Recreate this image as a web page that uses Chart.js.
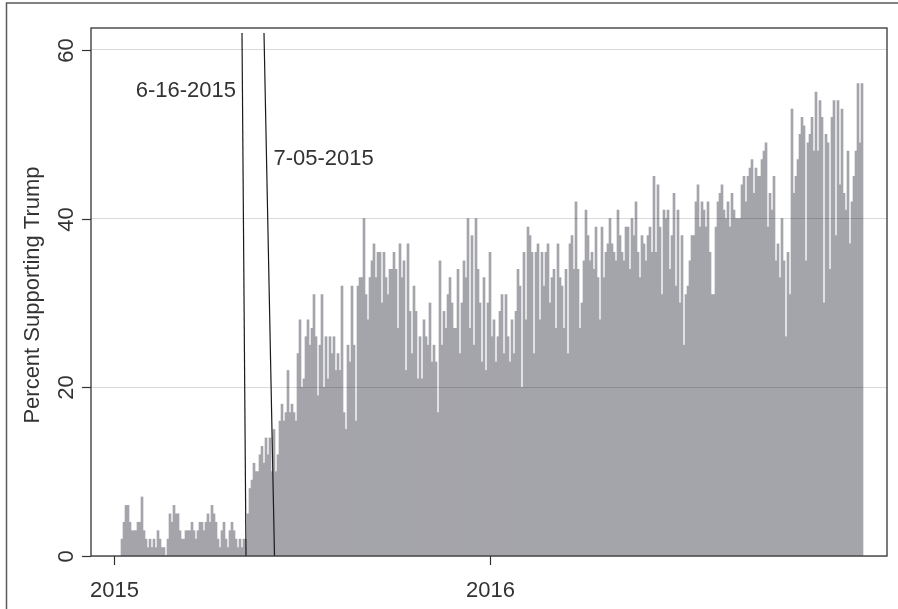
<!DOCTYPE html>
<html>
<head>
<meta charset="utf-8">
<script src="https://cdn.jsdelivr.net/npm/chart.js@4.4.1/dist/chart.umd.min.js"></script>
<style>
  html, body { margin:0; padding:0; background:#fff; }
  #wrap { width:898px; height:609px; }
</style>
</head>
<body>
<div id="wrap"><canvas id="trumpChart" width="898" height="609"></canvas></div>
<script>
// ── Data ──────────────────────────────────────────────────
// share supporting Trump, one bar per poll period
const earlyPolls = [2,4,6,6,4,3,3,3,4,4,7,3,2,1,2,1,2,1,3,2,1,1,0,2,5,4,6,5,5,3,2,2,3,3,3,4,3,2,3,4,4,3,4,5,4,6,5,4,2,1,3,4,2,1,3,4,3,2,1,2,1,2];
const summer2015  = [2,5,8,9,11,10,10,12,13,11,14,12,14,10,15,10,12,16,18,16,17,22,17,18,17,16,24,28,20,21,26,28,25,27,31,26,19,25,31,20,26,21,26,24,26,22,24,22,32,17,15,25,23,32,25,16,32,33];
const fall2015    = [33,40,31,28,33,35,37,33,36,36,30,36,33,31,34,34,36,34,27,37,33,35,22,37,29,24,32,29,21,26,21,28,26,25,30,23,25,23,17,35,25,29,27,31,33,30,27,27,34,24,30,35];
const winter2016  = [33,40,27,38,25,40,34,30,23,33,22,30,36,26,28,23,26,29,31,24,31,26,23,28,24,29,34,32,20,36,28,39,38,36,24,36,37,28,36,32,36,37,30,33,34,27,37,33,32,27];
const spring2016  = [34,24,37,38,34,42,34,27,30,35,41,38,35,36,34,39,33,28,39,33,36,37,40,37,36,35,41,38,36,35,39,39,34,40,38,42,36,33,38,37,35,38,39,36,45,36,44,39,31,41,40,41];
const summer2016  = [34,38,43,32,41,30,38,25,31,32,35,38,38,42,44,39,42,41,39,42,36,31,31,39,42,43,44,41,40,42,39,43,41,40,40,40,44,45,42,45,46,47,43,46,45,45,47,48,49,39,43,41];
const fall2016    = [45,35,37,33,40,35,26,36,31,53,43,45,47,50,52,51,35,49,50,52,48,55,48,54,52,30,50,49,34,52,54,38,54,44,53,43,41,48,37,42,45,48,56,49,56];

const support = [...earlyPolls, ...summer2015, ...fall2015, ...winter2016, ...spring2016, ...summer2016, ...fall2016];

// axis ticks (x is the poll index)
const yTicks      = [0, 20, 40, 60];
const xTickValues = [-4, 183.8];
const xTickLabels = ['2015', '2016'];

// announcement markers
const eventLabels = ['6-16-2015', '7-05-2015'];

// ── Layout bits (kept apart from the data) ────────────────
const FONT  = "22px 'Liberation Sans', Arial, sans-serif";
const INK   = '#333';
const eventGeom = [
  { xTop:60, xBottom:62,    yTop:62, textX:57,    textY:54.4, align:'right' },
  { xTop:71, xBottom:76.25, yTop:62, textX:75.75, textY:46.4, align:'left'  },
];

// ── Decorations plugin ────────────────────────────────────
const decor = {
  id: 'decor',
  afterDraw(chart) {
    const ctx = chart.ctx, a = chart.chartArea;
    const xs = chart.scales.x, ys = chart.scales.y;
    ctx.save();

    // outer frame (only top + left visible)
    ctx.strokeStyle = '#5a5a5a'; ctx.lineWidth = 1.5;
    ctx.beginPath(); ctx.moveTo(6.5, 609); ctx.lineTo(6.5, 3); ctx.lineTo(898, 3); ctx.stroke();

    // event lines
    ctx.strokeStyle = '#1a1a1a'; ctx.lineWidth = 1.2;
    eventGeom.forEach(g => {
      ctx.beginPath();
      ctx.moveTo(xs.getPixelForValue(g.xTop), ys.getPixelForValue(g.yTop));
      ctx.lineTo(xs.getPixelForValue(g.xBottom), ys.getPixelForValue(0));
      ctx.stroke();
    });

    // plot frame
    ctx.strokeStyle = INK; ctx.lineWidth = 1.3;
    ctx.strokeRect(a.left, a.top, a.right - a.left, a.bottom - a.top);

    ctx.fillStyle = INK; ctx.font = FONT; ctx.textBaseline = 'alphabetic';

    // event labels
    eventGeom.forEach((g, i) => {
      ctx.textAlign = g.align;
      ctx.fillText(eventLabels[i], xs.getPixelForValue(g.textX), ys.getPixelForValue(g.textY));
    });

    // y ticks + rotated labels
    ctx.lineWidth = 1.2;
    yTicks.forEach(v => {
      const y = Math.round(ys.getPixelForValue(v)) + 0.5;
      ctx.beginPath(); ctx.moveTo(a.left - 9, y); ctx.lineTo(a.left, y); ctx.stroke();
      ctx.save();
      ctx.translate(72.5, y); ctx.rotate(-Math.PI / 2);
      ctx.textAlign = 'center';
      ctx.fillText(String(v), 0, 0);
      ctx.restore();
    });

    // y title
    ctx.save();
    ctx.translate(38.5, 295); ctx.rotate(-Math.PI / 2);
    ctx.textAlign = 'center';
    ctx.fillText('Percent Supporting Trump', 0, 0);
    ctx.restore();

    // x ticks + labels
    xTickValues.forEach((v, i) => {
      const x = Math.round(xs.getPixelForValue(v)) + 0.5;
      ctx.beginPath(); ctx.moveTo(x, a.bottom); ctx.lineTo(x, a.bottom + 9); ctx.stroke();
      ctx.textAlign = 'center';
      ctx.fillText(xTickLabels[i], x, 596.5);
    });

    ctx.restore();
  }
};

// ── Chart ─────────────────────────────────────────────────
new Chart(document.getElementById('trumpChart'), {
  type: 'bar',
  data: {
    datasets: [{
      label: 'Percent Supporting Trump',
      data: support.map((v, i) => ({ x: i, y: v })),
      backgroundColor: '#a4a5aa',
      borderWidth: 0,
      barPercentage: 1,
      categoryPercentage: 1,
    }]
  },
  options: {
    responsive: false, animation: false, devicePixelRatio: 1,
    layout: { padding: { top: 28, right: 11, left: 0, bottom: 0 } },
    plugins: { legend: { display: false }, tooltip: { enabled: false } },
    scales: {
      x: {
        type: 'linear', min: -15.5, max: 382.5, offset: false,
        ticks: { display: false }, grid: { display: false }, border: { display: false },
        afterFit: s => { s.height = 53; }
      },
      y: {
        min: 0, max: 62.6,
        afterBuildTicks: s => { s.ticks = yTicks.map(v => ({ value: v })); },
        ticks: { display: false },
        // grid sits above the bars, as in the original
        grid: { color: 'rgba(0,0,0,0.15)', lineWidth: 1, drawTicks: false, z: 1 },
        border: { display: false },
        afterFit: s => { s.width = 91; }
      }
    }
  },
  plugins: [decor]
});
</script>
</body>
</html>
